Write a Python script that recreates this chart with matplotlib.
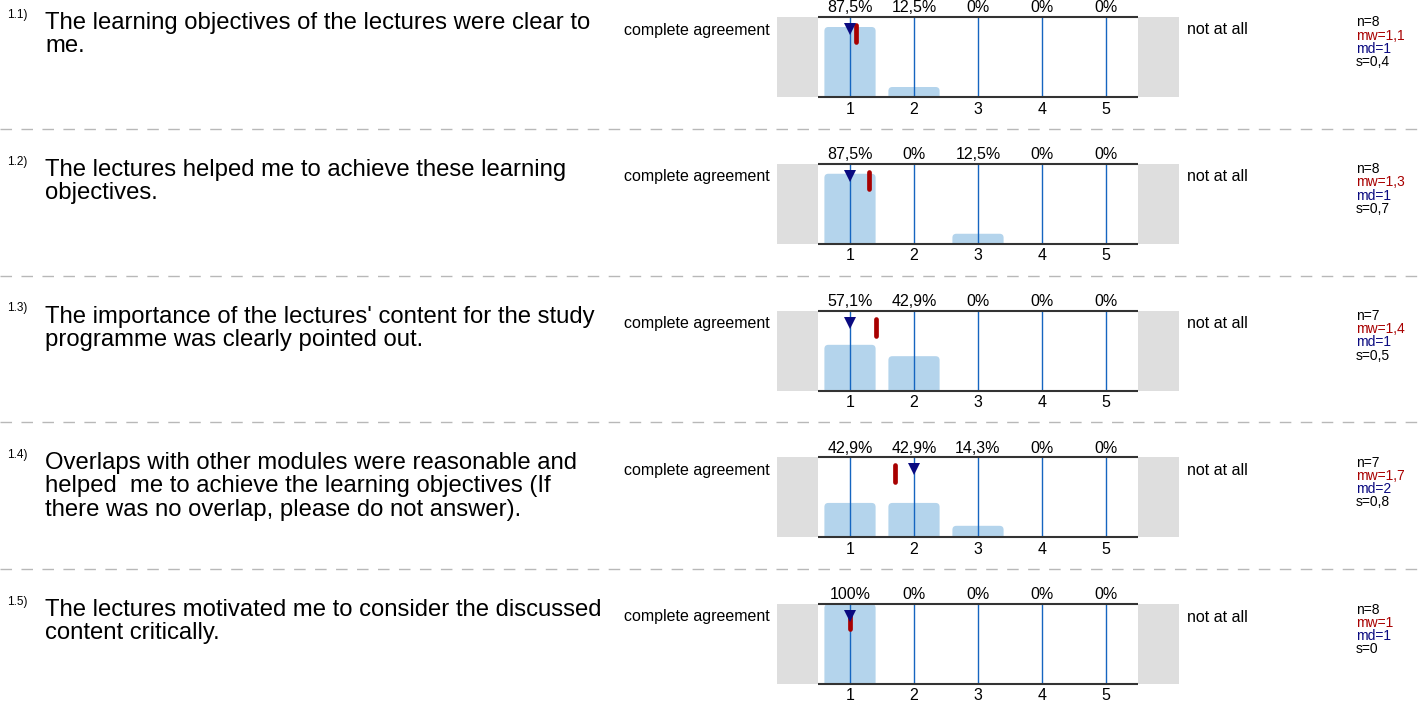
import matplotlib
matplotlib.use("Agg")
import matplotlib.pyplot as plt
from matplotlib.patches import FancyBboxPatch, Rectangle
from matplotlib.lines import Line2D

plt.rcParams['font.family'] = ['Liberation Sans', 'DejaVu Sans']

W, H = 1423, 701

# data
numbers = ["1.1)", "1.2)", "1.3)", "1.4)", "1.5)"]
questions = [
    ["The learning objectives of the lectures were clear to", "me."],
    ["The lectures helped me to achieve these learning", "objectives."],
    ["The importance of the lectures' content for the study",
     "programme was clearly pointed out."],
    ["Overlaps with other modules were reasonable and",
     "helped  me to achieve the learning objectives (If",
     "there was no overlap, please do not answer)."],
    ["The lectures motivated me to consider the discussed",
     "content critically."],
]
scale = [1, 2, 3, 4, 5]
percents = [
    [87.5, 12.5, 0, 0, 0],
    [87.5, 0, 12.5, 0, 0],
    [57.1, 42.9, 0, 0, 0],
    [42.9, 42.9, 14.3, 0, 0],
    [100, 0, 0, 0, 0],
]
n_vals = [8, 8, 7, 7, 8]
mean_vals = [1.1, 1.3, 1.4, 1.7, 1.0]
median_vals = [1, 1, 1, 2, 1]
std_vals = [0.4, 0.7, 0.5, 0.8, 0.0]
left_label = "complete agreement"
right_label = "not at all"

bar_color = '#b4d4ec'
line_blue = '#1565c0'
gray_box = '#dedede'
mean_red = '#a80000'
median_blue = '#0a0a80'


def fx(px):
    return px / W


def fy(py):
    return 1 - py / H


def fmt(v):
    s = f"{v:.1f}".replace(".", ",")
    return s[:-2] if s.endswith(",0") else s


fig = plt.figure(figsize=(W / 100, H / 100), dpi=100)

box_l, box_r, box_h = 818, 1138, 80
unit_px = (box_r - box_l) / 5.0
row_step = 146.75

for i in range(len(questions)):
    top = 17 + i * row_step
    bottom = top + box_h

    # question text
    fig.text(fx(7), fy(top - 2), numbers[i], fontsize=8.5, va='center', ha='left')
    for j, line in enumerate(questions[i]):
        fig.text(fx(45), fy(top + 12 + j * 23.2), line, fontsize=17.2,
                 va='baseline', ha='left')

    fig.text(fx(770), fy(top + 13), left_label, fontsize=11.5, ha='right', va='center')
    fig.text(fx(1187), fy(top + 13), right_label, fontsize=11.5, ha='left', va='center')

    # stats
    stats = [(f"n={n_vals[i]}", 'black'),
             (f"mw={fmt(mean_vals[i])}", mean_red),
             (f"md={median_vals[i]}", median_blue),
             (f"s={fmt(std_vals[i])}", 'black')]
    for k, (txt, col) in enumerate(stats):
        fig.text(fx(1356), fy(top + 5.5 + k * 13.2), txt, fontsize=10,
                 color=col, ha='left', va='center')

    ax = fig.add_axes([fx(box_l), fy(bottom), fx(box_r) - fx(box_l), box_h / H])
    ax.set_xlim(0.5, 5.5)
    ax.set_ylim(0, 100)
    ax.axis('off')

    gw = 41 / unit_px
    ax.add_patch(Rectangle((0.5 - gw, 0), gw, 100, color=gray_box,
                           clip_on=False, zorder=0, lw=0))
    ax.add_patch(Rectangle((5.5, 0), gw, 100, color=gray_box,
                           clip_on=False, zorder=0, lw=0))

    # bars with rounded tops
    r = 4 / unit_px
    aspect = (100 / box_h) / (1 / unit_px)
    for x, p in zip(scale, percents[i]):
        if p > 0:
            bar = FancyBboxPatch((x - 0.4, -6), 0.8, p + 6,
                                 boxstyle=f"round,pad=0,rounding_size={r}",
                                 mutation_aspect=aspect, fc=bar_color, ec='none',
                                 zorder=1)
            ax.add_patch(bar)
            bar.set_clip_box(ax.bbox)
        ax.vlines(x, 0, 100, color=line_blue, lw=1.0, zorder=2)
        ax.text(x, 100 + 11.5, f"{fmt(p)}%", fontsize=11.5, ha='center', va='center')
        ax.text(x, -15, str(x), fontsize=11.5, ha='center', va='center')

    ax.plot([0.5, 5.5], [100, 100], color='#333333', lw=1.5,
            clip_on=False, zorder=3, solid_capstyle='butt')
    ax.plot([0.5, 5.5], [0, 0], color='#333333', lw=1.5,
            clip_on=False, zorder=3, solid_capstyle='butt')

    # mean and median markers
    ax.plot([mean_vals[i], mean_vals[i]], [100 - 8 / 0.8, 100 - 25 / 0.8],
            color=mean_red, lw=3.4, solid_capstyle='round', zorder=4)
    ax.plot([median_vals[i]], [100 - 12 / 0.8], marker='v', color=median_blue,
            markersize=9, lw=0, zorder=5, markeredgewidth=0)

    # dashed separator
    if i < len(questions) - 1:
        sy = fy(top + 112)
        fig.add_artist(Line2D([0, 1], [sy, sy], transform=fig.transFigure,
                              color='#b8b8b8', lw=1.0, dashes=(8.3, 6.8)))

fig.savefig("out.png", dpi=100)
